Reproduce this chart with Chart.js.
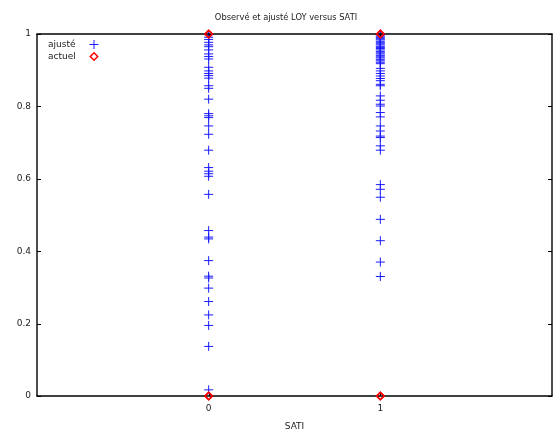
<!DOCTYPE html>
<html>
<head>
<meta charset="utf-8">
<script src="https://cdn.jsdelivr.net/npm/chart.js@4"></script>
<style>
html,body{margin:0;padding:0;background:#fff;}
</style>
</head>
<body>
<canvas id="c" width="553" height="433"></canvas>
<script>
const chartTitle = "Observé et ajusté LOY versus SATI";
const xLabel = "SATI";
const seriesNames = ["ajusté", "actuel"];
const xTicks = [0, 1];
const yTicks = [0, 0.2, 0.4, 0.6, 0.8, 1];

// fitted values (ajusté) for SATI = 0
const fitted0 = [0.998, 0.991, 0.985, 0.977, 0.970, 0.965, 0.956, 0.945, 0.938, 0.931,
  0.908, 0.898, 0.891, 0.885, 0.878, 0.857, 0.850, 0.820, 0.780, 0.774, 0.769, 0.746,
  0.723, 0.679, 0.631, 0.621, 0.614, 0.607, 0.557, 0.457, 0.439, 0.434, 0.374, 0.331,
  0.326, 0.298, 0.261, 0.224, 0.195, 0.137, 0.017];
// fitted values (ajusté) for SATI = 1
const fitted1 = [1.000, 0.997, 0.994, 0.990, 0.987, 0.984, 0.980, 0.977, 0.973, 0.970,
  0.966, 0.963, 0.960, 0.956, 0.952, 0.948, 0.945, 0.941, 0.937, 0.934, 0.930, 0.926,
  0.922, 0.918, 0.905, 0.898, 0.891, 0.884, 0.877, 0.871, 0.861, 0.857, 0.829, 0.817,
  0.806, 0.801, 0.783, 0.771, 0.746, 0.732, 0.718, 0.714, 0.691, 0.679, 0.584, 0.571,
  0.549, 0.488, 0.429, 0.370, 0.330];
// actual values (actuel)
const actualX = [0, 0, 1, 1];
const actualY = [0, 1, 0, 1];

const fittedPoints = fitted0.map(v => ({x: xTicks[0], y: v}))
  .concat(fitted1.map(v => ({x: xTicks[1], y: v})));
const actualPoints = actualX.map((x, i) => ({x: x, y: actualY[i]}));

const FONT = "'DejaVu Sans', Verdana, sans-serif";
const TEXT = '#222';
const BLUE = '#1a1aff';
const RED = '#ff0000';

function seg(ctx, x1, y1, x2, y2) {
  ctx.beginPath();
  ctx.moveTo(x1, y1);
  ctx.lineTo(x2, y2);
  ctx.stroke();
}

const framePlugin = {
  id: 'frame',
  beforeDatasetsDraw(chart) {
    const {ctx, chartArea: a} = chart;
    ctx.save();
    ctx.font = '8.3px ' + FONT;
    ctx.fillStyle = TEXT;
    ctx.textAlign = 'center';
    ctx.textBaseline = 'middle';
    ctx.fillText(chartTitle, (a.left + a.right) / 2 - 8.5, 17.5);
    ctx.restore();
  },
  afterDraw(chart) {
    const {ctx, chartArea: a, scales: {x, y}} = chart;
    ctx.save();
    ctx.strokeStyle = '#000';
    ctx.lineWidth = 1.4;
    const L = Math.round(a.left), R = Math.round(a.right);
    const T = Math.round(a.top), B = Math.round(a.bottom);
    seg(ctx, L - 0.7, T, R + 0.7, T);
    seg(ctx, R, T, R, B);
    seg(ctx, L - 0.7, B, R + 0.7, B);
    seg(ctx, L, T, L, B);
    ctx.lineWidth = 1;
    const tl = 4;
    yTicks.forEach(v => {
      const py = Math.round(y.getPixelForValue(v)) + 0.5;
      seg(ctx, L, py, L + tl, py);
      seg(ctx, R, py, R - tl, py);
    });
    xTicks.forEach(v => {
      const px = Math.round(x.getPixelForValue(v)) + 0.5;
      seg(ctx, px, B, px, B - tl);
      seg(ctx, px, T, px, T + tl);
    });
    // legend
    ctx.font = '9px ' + FONT;
    ctx.fillStyle = TEXT;
    ctx.textBaseline = 'middle';
    ctx.textAlign = 'left';
    const tx = a.left + 11, sx = a.left + 57;
    const y1 = a.top + 10.5, y2 = a.top + 22.5;
    ctx.fillText(seriesNames[0], tx, y1);
    ctx.fillText(seriesNames[1], tx, y2);
    ctx.strokeStyle = BLUE; ctx.lineWidth = 1;
    seg(ctx, sx - 4.5, y1, sx + 4.5, y1);
    seg(ctx, sx, y1 - 4.5, sx, y1 + 4.5);
    ctx.strokeStyle = RED; ctx.lineWidth = 1.5;
    ctx.beginPath();
    ctx.moveTo(sx, y2 - 3.7); ctx.lineTo(sx + 3.7, y2);
    ctx.lineTo(sx, y2 + 3.7); ctx.lineTo(sx - 3.7, y2); ctx.closePath();
    ctx.stroke();
    ctx.restore();
    // redraw the actual-value markers on top of the frame
    const meta = chart.getDatasetMeta(0);
    if (meta && meta.controller) meta.controller.draw();
  }
};

new Chart(document.getElementById('c'), {
  type: 'scatter',
  data: {
    datasets: [
      {
        label: seriesNames[1],
        data: actualPoints,
        pointStyle: 'rectRot',
        radius: 3.7,
        borderColor: RED,
        backgroundColor: 'rgba(0,0,0,0)',
        borderWidth: 1.6,
        clip: false
      },
      {
        label: seriesNames[0],
        data: fittedPoints,
        pointStyle: 'cross',
        radius: 4.5,
        borderColor: BLUE,
        backgroundColor: BLUE,
        borderWidth: 1,
        clip: false
      }
    ]
  },
  options: {
    responsive: false,
    animation: false,
    events: [],
    layout: {autoPadding: false, padding: {left: 0, right: 1, top: 34, bottom: 0}},
    plugins: {
      legend: {display: false},
      tooltip: {enabled: false},
      title: {display: false}
    },
    scales: {
      x: {
        type: 'linear',
        position: 'bottom',
        min: -1, max: 2,
        afterBuildTicks: s => { s.ticks = xTicks.map(v => ({value: v})); },
        afterFit: s => { s.height = 37; s.paddingLeft = 0; s.paddingRight = 0; },
        grid: {display: false, drawTicks: false},
        border: {display: false},
        ticks: {color: TEXT, font: {family: FONT, size: 9}, padding: 7, maxRotation: 0},
        title: {display: true, text: xLabel, color: TEXT, font: {family: FONT, size: 9}, padding: {top: 0, bottom: 1}}
      },
      y: {
        type: 'linear',
        position: 'left',
        min: 0, max: 1,
        afterBuildTicks: s => { s.ticks = yTicks.map(v => ({value: v})); },
        afterFit: s => { s.width = 37; s.paddingTop = 0; s.paddingBottom = 0; },
        grid: {display: false, drawTicks: false},
        border: {display: false},
        ticks: {color: TEXT, font: {family: FONT, size: 9}, padding: 6, callback: v => String(v)}
      }
    }
  },
  plugins: [framePlugin]
});
</script>
</body>
</html>
